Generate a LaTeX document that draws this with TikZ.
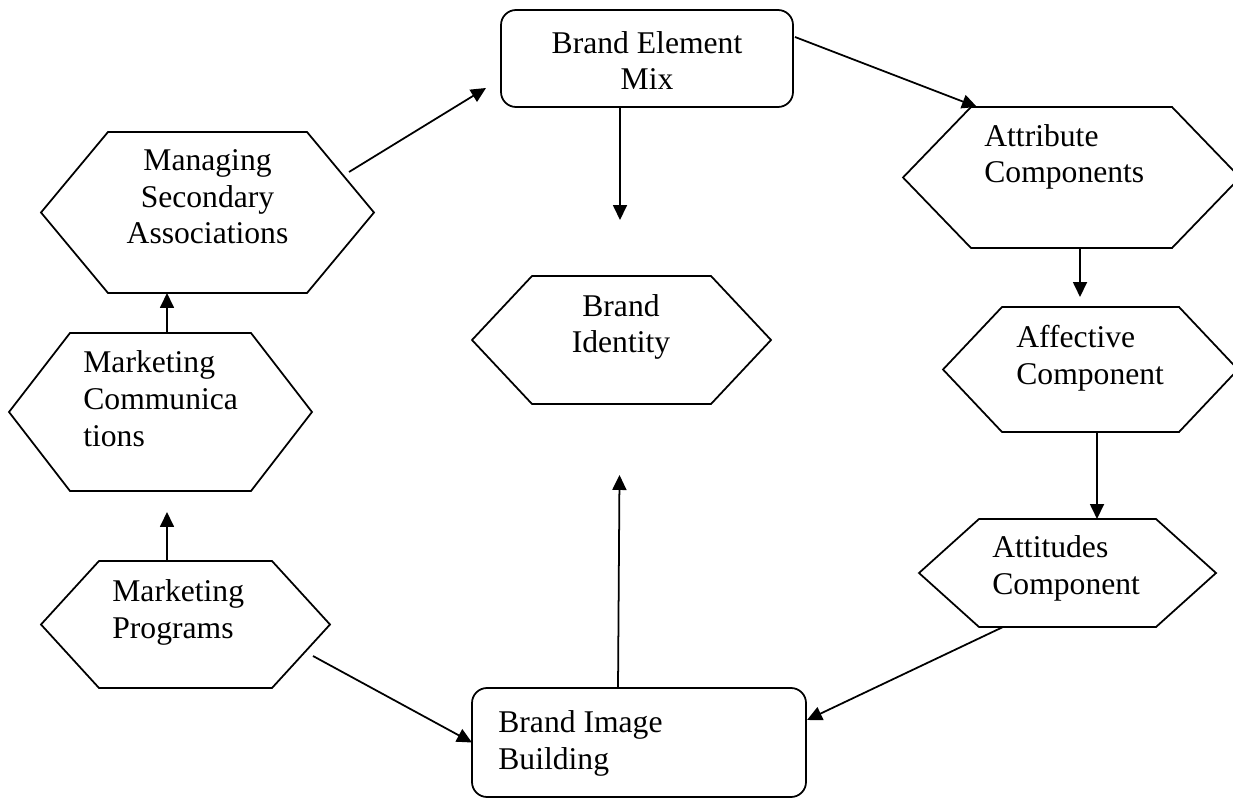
\documentclass[tikz,border=0pt]{standalone}
\usepackage{fontspec}
\setmainfont{Liberation Serif}
\usetikzlibrary{arrows.meta}

\tikzset{
  frame/.style={line width=1pt, line join=miter},
  hexbox/.style 2 args={inner sep=0pt, outer sep=0pt,
    minimum width=#1*0.02cm, minimum height=#2*0.02cm},
  roundbox/.style 2 args={draw, line width=1pt, rounded corners=0.3cm,
    inner sep=0pt, outer sep=0pt, minimum width=#1*0.02cm, minimum height=#2*0.02cm},
  txt/.style={inner sep=0pt, font=\fontsize{18}{21}\selectfont},
  arr/.style={line width=1pt, -{Triangle[length=0.3cm,width=0.28cm]}}
}

% hexagon round a named box, #2 = inset of the slanted sides
\newcommand{\hexframe}[2]{%
  \draw[frame] (#1.west) -- ([shift={(#2,0)}]#1.north west)
    -- ([shift={(-#2,0)}]#1.north east) -- (#1.east)
    -- ([shift={(-#2,0)}]#1.south east) -- ([shift={(#2,0)}]#1.south west) -- cycle;}

\begin{document}
\begin{tikzpicture}[x=0.02cm, y=-0.02cm]
  \useasboundingbox (0,0) rectangle (1233,800);

  % Left column
  \node[hexbox={333}{161}] (msa) at (207.5,212.5) {};
  \hexframe{msa}{67}
  \node[txt, align=center, anchor=base] (msa-t) at (207.5,244)
    {Managing\\Secondary\\Associations};

  \node[hexbox={303}{158}] (mc) at (160.5,412) {};
  \hexframe{mc}{61}
  \node[txt, align=left, anchor=base west] (mc-t) at (83,446)
    {Marketing\\Communica\\tions};

  \node[hexbox={289}{127}] (mp) at (185.5,624.5) {};
  \hexframe{mp}{58}
  \node[txt, align=left, anchor=base west] (mp-t) at (112,638)
    {Marketing\\Programs};

  % Middle
  \node[roundbox={292}{97}] (bem) at (647,58.5) {};
  \node[txt, align=center, anchor=base] (bem-t) at (647,90)
    {Brand Element\\Mix};

  \node[hexbox={299}{128}] (bi) at (621.5,340) {};
  \hexframe{bi}{60}
  \node[txt, align=center, anchor=base] (bi-t) at (621,353)
    {Brand\\Identity};

  \node[roundbox={334}{109}] (bib) at (639,742.5) {};
  \node[txt, align=left, anchor=base west] (bib-t) at (498,769)
    {Brand Image\\Building};

  % Right column
  \node[hexbox={337}{141}] (ac) at (1071.5,177.5) {};
  \hexframe{ac}{68}
  \node[txt, align=left, anchor=base west] (ac-t) at (984,183)
    {Attribute\\Components};

  \node[hexbox={295}{125}] (af) at (1090.5,369.5) {};
  \hexframe{af}{59}
  \node[txt, align=left, anchor=base west] (af-t) at (1016,384)
    {Affective\\Component};

  \node[hexbox={297}{108}] (at) at (1067.5,573) {};
  \hexframe{at}{60}
  \node[txt, align=left, anchor=base west] (at-t) at (992,594)
    {Attitudes\\Component};

  % Arrows
  \draw[arr, shorten >=0.42cm] ([shift={(-18.5,0)}]mp.north) -- ([shift={(6.5,0)}]mc.south);
  \draw[arr] ([shift={(6.5,0)}]mc.north) -- ([shift={(-40.5,0)}]msa.south);
  \draw[arr] ([shift={(-25,-40.5)}]msa.east) -- ([shift={(-15,29.5)}]bem.west);
  \draw[arr, shorten >=1.12cm] ([shift={(-27,0)}]bem.south) -- ([shift={(-1.5,0)}]bi.north);
  \draw[arr, shorten >=1.42cm] ([shift={(-21,0)}]bib.north) -- ([shift={(-1.5,0)}]bi.south);
  \draw[arr] ([shift={(-17,31.5)}]mp.east) -- (bib.west);
  \draw[arr] ([shift={(2,-21.5)}]bem.east) -- ([shift={(-94.5,0)}]ac.north);
  \draw[arr, shorten >=0.2cm] ([shift={(8.5,0)}]ac.south) -- ([shift={(-10.5,0)}]af.north);
  \draw[arr] ([shift={(6.5,0)}]af.south) -- ([shift={(29.5,0)}]at.north);
  \draw[arr] ([shift={(-64.5,0)}]at.south) -- ([shift={(1,-22.5)}]bib.east);
\end{tikzpicture}
\end{document}
